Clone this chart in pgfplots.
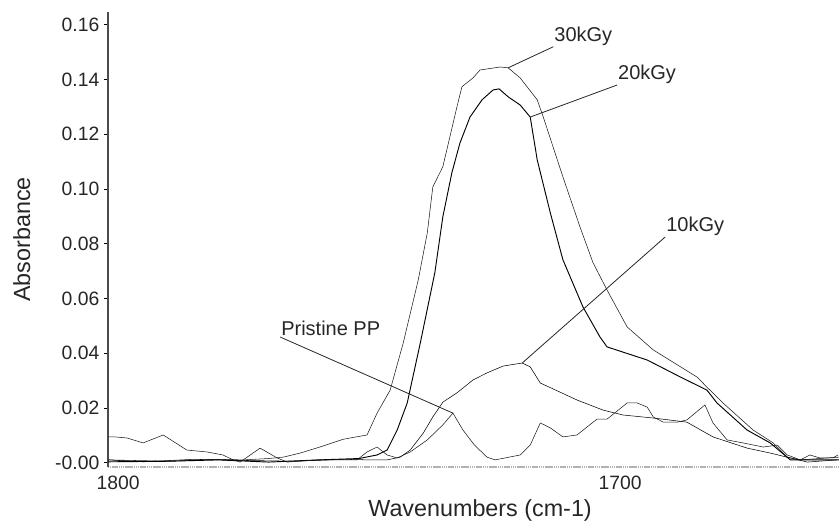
\documentclass[border=0pt]{standalone}
\usepackage{fontspec}
\setmainfont{Liberation Sans}
\usepackage{pgfplots}
\pgfplotsset{compat=1.18}

\begin{document}
\begin{tikzpicture}
% 1 px of the reference = 0.75pt
\useasboundingbox (0pt,0pt) rectangle (629.25pt,396.75pt);
\begin{axis}[
    at={(81pt,46.5pt)}, anchor=south west,
    scale only axis,
    width=548.25pt, height=341.25pt,
    x dir=reverse,
    xmin=1656.4, xmax=1802,
    ymin=-0.0016, ymax=0.1647,
    axis x line*=bottom, axis y line*=left,
    x axis line style={gray!60, line width=1.6pt, dash pattern=on 1pt off 0.4pt},
    y axis line style={black!70, line width=0.9pt},
    xtick={1800,1700}, xticklabels={1800,1700},
    xtick style={draw=none},
    ytick={0,0.02,0.04,0.06,0.08,0.10,0.12,0.14,0.16},
    yticklabels={-0.00,0.02,0.04,0.06,0.08,0.10,0.12,0.14,0.16},
    tick align=outside,
    major tick length=3pt,
    ytick style={black, line width=0.6pt},
    /pgf/number format/assume math mode=true,
    tick label style={font=\fontsize{14.5}{17}\selectfont, text=black!85},
    xlabel={Wavenumbers (cm-1)},
    ylabel={Absorbance},
    every axis x label/.style={at={(axis description cs:0.509,-0.0945)}, anchor=center,
        font=\fontsize{17.5}{21}\selectfont, text=black!85},
    every axis y label/.style={at={(axis description cs:-0.118,0.5)}, rotate=90, anchor=center,
        font=\fontsize{17.5}{21}\selectfont, text=black!85},
    clip=true,
    no markers,
    cycle list={{black!90, line width=0.7pt, line join=round}},
]
% 30 kGy
\addplot coordinates {
(1802,0.0010) (1790,0.0005) (1780,0.0012) (1775,0.0010) (1770,0.0015)
(1767.1,0.0020) (1763.7,0.0035) (1759.8,0.0057) (1755.2,0.0085) (1753.8,0.0090)
(1750.4,0.0101) (1748.4,0.0181) (1745.8,0.0265) (1743.2,0.0437) (1740.2,0.0668)
(1738.4,0.0840) (1737.3,0.1008) (1735.3,0.1082) (1732.5,0.1300) (1731.5,0.1374)
(1729.3,0.1406) (1727.9,0.1435) (1723.9,0.1446) (1722.3,0.1443) (1719.9,0.1406)
(1716.5,0.1326) (1715.3,0.1263) (1711.4,0.1045) (1708.0,0.0862) (1705.4,0.0731)
(1702.6,0.0631) (1698.6,0.0496) (1693.4,0.0412) (1684.7,0.0313) (1682.7,0.0276)
(1679.5,0.0218) (1673.5,0.0119) (1669.5,0.0072) (1666.7,0.0020) (1664.1,0.0010)
(1656.4,0.0020)
};
% 20 kGy
\addplot coordinates {
(1802,0.0003) (1790,0.0005) (1780,0.0010) (1770,0.0002) (1760,0.0010)
(1752,0.0015) (1748.4,0.0028) (1746.4,0.0046) (1744.4,0.0119) (1742.4,0.0218)
(1739.8,0.0437) (1736.9,0.0694) (1735.3,0.0899) (1733.5,0.1060) (1731.9,0.1168)
(1729.9,0.1263) (1727.5,0.1326) (1725.3,0.1362) (1724.1,0.1366) (1722.3,0.1337)
(1719.9,0.1307) (1717.9,0.1263) (1716.5,0.1106) (1713.9,0.0913) (1711.4,0.0742)
(1707.4,0.0569) (1704.0,0.0459) (1702.6,0.0423) (1694.6,0.0375) (1688.0,0.0313)
(1682.7,0.0265) (1680.7,0.0218) (1674.7,0.0119) (1670.1,0.0072) (1666.1,0.0010)
(1656.4,0.0010)
};
% 10 kGy
\addplot coordinates {
(1802,0.0010) (1795,0.0003) (1785,0.0012) (1775,0.0008) (1765,0.0005)
(1755,0.0012) (1750,0.0010) (1746.4,0.0010) (1743.8,0.0020) (1741.8,0.0046)
(1739.2,0.0108) (1737.3,0.0167) (1735.3,0.0221) (1732.5,0.0255) (1729.3,0.0302)
(1726.5,0.0328) (1723.3,0.0353) (1719.5,0.0364) (1717.9,0.0350) (1715.9,0.0291)
(1712.0,0.0258) (1708.6,0.0229) (1703.4,0.0192) (1699.4,0.0174) (1693.4,0.0163)
(1686.7,0.0148) (1681.5,0.0094) (1674.7,0.0053) (1670.1,0.0035) (1666.1,0.0017)
(1662.7,0.0002) (1656.8,0.0010)
};
% Pristine PP
\addplot coordinates {
(1802,0.0094) (1800.6,0.0094) (1798.2,0.0090) (1795.0,0.0072) (1791.0,0.0101)
(1786.3,0.0046) (1782.3,0.0039) (1779.1,0.0028) (1777.1,0.0010) (1775.7,0.0002)
(1771.7,0.0053) (1768.3,0.0017) (1766.3,0.0002) (1760.4,0.0010) (1752.4,0.0010)
(1750.4,0.0039) (1748.4,0.0057) (1746.4,0.0028) (1744.4,0.0017) (1741.8,0.0039)
(1738.4,0.0083) (1735.3,0.0138) (1733.3,0.0181) (1731.3,0.0119) (1729.0,0.0064)
(1726.5,0.0020) (1724.9,0.0010) (1719.9,0.0028) (1717.9,0.0064) (1715.9,0.0145)
(1713.9,0.0127) (1711.4,0.0094) (1708.6,0.0101) (1704.6,0.0159) (1702.6,0.0159)
(1698.6,0.0218) (1696.6,0.0218) (1694.6,0.0203) (1693.4,0.0167) (1691.4,0.0148)
(1688.6,0.0148) (1686.7,0.0156) (1683.1,0.0211) (1681.5,0.0145) (1678.7,0.0083)
(1675.5,0.0072) (1671.5,0.0057) (1668.7,0.0064) (1666.7,0.0028) (1664.1,0.0010)
(1662.2,0.0028) (1660.2,0.0017) (1657.6,0.0017) (1656.6,0.0028)
};
% annotations
\draw[black!85, line width=0.6pt] (axis cs:1722.3,0.1443) -- (axis cs:1713.3,0.1520)
  node[anchor=south west, inner sep=0.5pt, font=\fontsize{15}{18}\selectfont, text=black!85] {30kGy};
\draw[black!85, line width=0.6pt] (axis cs:1717.9,0.1263) -- (axis cs:1700.6,0.1380)
  node[anchor=south west, inner sep=0.5pt, font=\fontsize{15}{18}\selectfont, text=black!85] {20kGy};
\draw[black!85, line width=0.6pt] (axis cs:1719.5,0.0364) -- (axis cs:1691.0,0.0825)
  node[anchor=south west, inner sep=0.5pt, font=\fontsize{15}{18}\selectfont, text=black!85] {10kGy};
\draw[black!85, line width=0.6pt] (axis cs:1733.3,0.0181) -- (axis cs:1767.7,0.0459)
  node[anchor=south west, inner sep=0.5pt, font=\fontsize{15}{18}\selectfont, text=black!85] {Pristine PP};
\end{axis}
\end{tikzpicture}
\end{document}
